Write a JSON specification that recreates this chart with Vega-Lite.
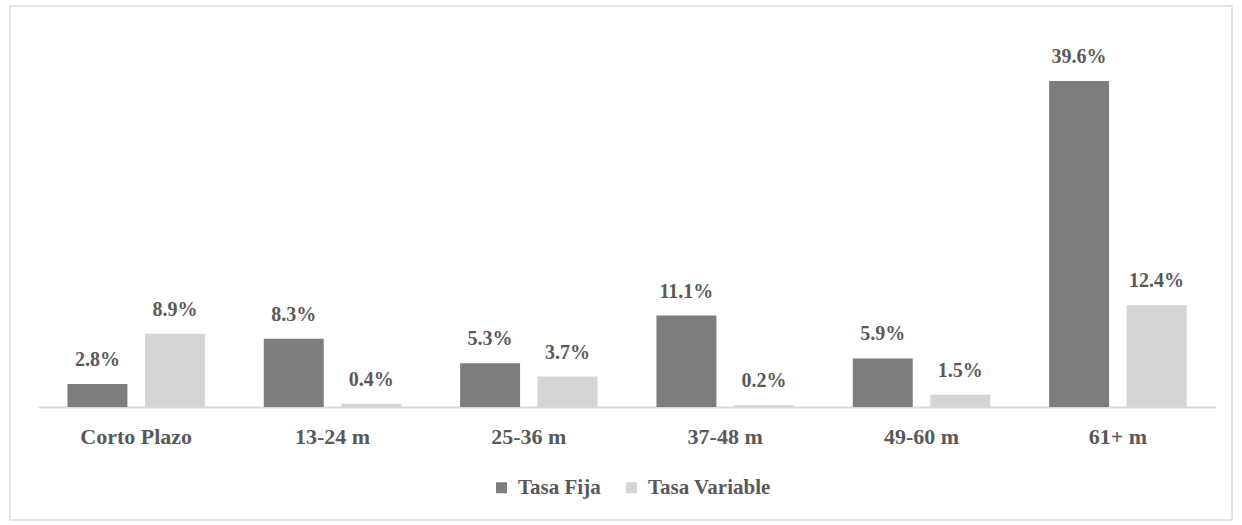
{
  "$schema": "https://vega.github.io/schema/vega-lite/v6.json",
  "autosize": "none",
  "padding": {"left": 10, "top": 6, "right": 10, "bottom": 5},
  "width": 1222,
  "height": 514,
  "background": "white",
  "config": {"view": {"stroke": "#dcdcdc", "strokeWidth": 1.5}},
  "data": {
    "values": [
      {"plazo": "Corto Plazo", "serie": "Tasa Fija", "value": 2.8},
      {"plazo": "Corto Plazo", "serie": "Tasa Variable", "value": 8.9},
      {"plazo": "13-24 m", "serie": "Tasa Fija", "value": 8.3},
      {"plazo": "13-24 m", "serie": "Tasa Variable", "value": 0.4},
      {"plazo": "25-36 m", "serie": "Tasa Fija", "value": 5.3},
      {"plazo": "25-36 m", "serie": "Tasa Variable", "value": 3.7},
      {"plazo": "37-48 m", "serie": "Tasa Fija", "value": 11.1},
      {"plazo": "37-48 m", "serie": "Tasa Variable", "value": 0.2},
      {"plazo": "49-60 m", "serie": "Tasa Fija", "value": 5.9},
      {"plazo": "49-60 m", "serie": "Tasa Variable", "value": 1.5},
      {"plazo": "61+ m", "serie": "Tasa Fija", "value": 39.6},
      {"plazo": "61+ m", "serie": "Tasa Variable", "value": 12.4}
    ]
  },
  "transform": [{"calculate": "format(datum.value, '.1f') + '%'", "as": "label"}],
  "encoding": {
    "x": {
      "field": "plazo",
      "type": "nominal",
      "sort": ["Corto Plazo", "13-24 m", "25-36 m", "37-48 m", "49-60 m", "61+ m"],
      "scale": {"range": [28, 1206], "paddingInner": 0.3, "paddingOuter": 0.15},
      "axis": {
        "title": null,
        "orient": "bottom",
        "offset": -113,
        "labelAngle": 0,
        "ticks": false,
        "domainColor": "#d9d9d9",
        "domainWidth": 2,
        "labelFont": "Liberation Serif",
        "labelFontWeight": "bold",
        "labelFontSize": 22,
        "labelColor": "#595959",
        "labelPadding": 19
      }
    },
    "xOffset": {
      "field": "serie",
      "type": "nominal",
      "scale": {"paddingInner": 0.226, "paddingOuter": 0}
    },
    "y": {
      "field": "value",
      "type": "quantitative",
      "scale": {"domain": [0, 39.6], "range": [401, 75], "nice": false, "zero": true},
      "axis": null
    }
  },
  "layer": [
    {
      "mark": {"type": "bar"},
      "encoding": {
        "color": {
          "field": "serie",
          "type": "nominal",
          "scale": {"domain": ["Tasa Fija", "Tasa Variable"], "range": ["#7d7d7d", "#d4d4d4"]},
          "legend": {
            "title": null,
            "orient": "none",
            "legendX": 481,
            "legendY": 471,
            "direction": "horizontal",
            "symbolType": "square",
            "symbolSize": 121,
            "symbolStrokeWidth": 0,
            "labelFont": "Liberation Serif",
            "labelFontWeight": "bold",
            "labelFontSize": 21,
            "labelColor": "#595959",
            "labelOffset": 6,
            "columnPadding": 20
          }
        }
      }
    },
    {
      "mark": {
        "type": "text",
        "baseline": "bottom",
        "dy": -14,
        "font": "Liberation Serif",
        "fontWeight": "bold",
        "fontSize": 20,
        "color": "#595959"
      },
      "encoding": {"text": {"field": "label"}}
    }
  ]
}
